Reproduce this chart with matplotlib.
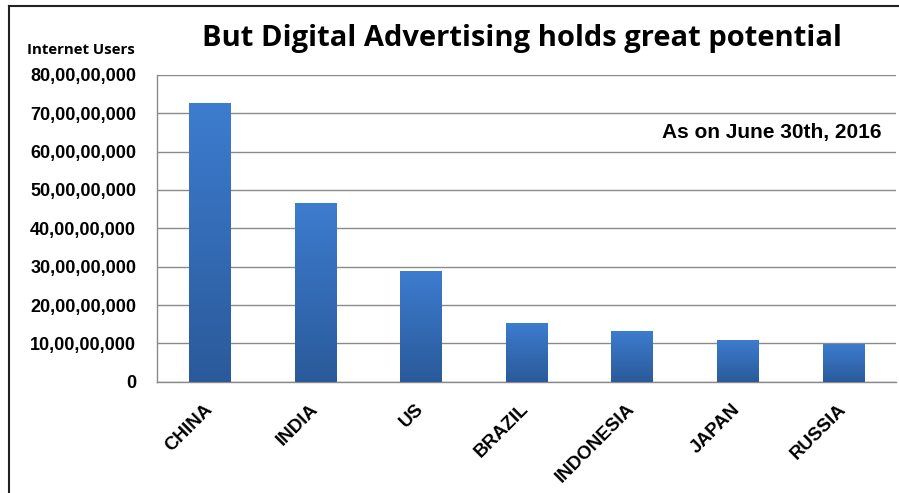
import matplotlib
matplotlib.use("Agg")
import matplotlib.pyplot as plt
import numpy as np
from matplotlib.colors import LinearSegmentedColormap
from matplotlib.lines import Line2D
from matplotlib.ticker import FuncFormatter

countries = ["CHINA", "INDIA", "US", "BRAZIL", "INDONESIA", "JAPAN", "RUSSIA"]
users = [727000000, 466000000, 290000000, 152000000, 132000000, 110000000, 99000000]
yticks = np.arange(0, 800000001, 100000000)


def indian_fmt(v, _pos=None):
    # lakh/crore grouping: 80,00,00,000
    n = int(round(v))
    if n == 0:
        return "0"
    s = str(n)
    head, tail = s[:-3], s[-3:]
    groups = []
    while len(head) > 2:
        groups.insert(0, head[-2:])
        head = head[:-2]
    if head:
        groups.insert(0, head)
    return ",".join(groups + [tail])


fig = plt.figure(figsize=(8.99, 4.93), dpi=100)
ax = fig.add_axes([0.1746, 0.2258, 0.8220, 0.6221])

x = np.arange(len(countries))
bars = ax.bar(x, users, width=0.39, color="none", edgecolor="none", zorder=3)

# vertical gradient fill, lighter at the top
cmap = LinearSegmentedColormap.from_list("barblue", ["#2a5a9a", "#3d7ccf"])
grad = np.linspace(0, 1, 256).reshape(-1, 1)
for b in bars:
    x0, w, h = b.get_x(), b.get_width(), b.get_height()
    im = ax.imshow(grad, cmap=cmap, origin="lower", aspect="auto",
                   extent=(x0, x0 + w, 0, h), zorder=3)
    im.set_clip_path(b)

ax.set_xlim(-0.5, len(countries) - 0.5)
ax.set_ylim(0, 800000000)
ax.set_yticks(yticks)
ax.yaxis.set_major_formatter(FuncFormatter(indian_fmt))
ax.grid(axis="y", color="#8a8a8a", lw=1.0, zorder=0)
ax.set_axisbelow(True)

for s in ["top", "right"]:
    ax.spines[s].set_visible(False)
for s in ["left", "bottom"]:
    ax.spines[s].set_color("#8a8a8a")
    ax.spines[s].set_linewidth(1.0)

ax.tick_params(axis="y", length=0, pad=15, labelsize=13)
ax.tick_params(axis="x", length=0, pad=18, labelsize=13.5)
for lab in ax.get_yticklabels():
    lab.set_fontfamily("Liberation Sans")
    lab.set_fontweight("bold")
ax.set_xticks(x)
ax.set_xticklabels(countries, rotation=45, ha="right", va="center",
                   rotation_mode="anchor", fontfamily="Liberation Sans",
                   fontweight="bold")

fig.text(0.581, 0.922, "But Digital Advertising holds great potential",
         ha="center", va="center", fontsize=21, fontweight="bold",
         fontfamily="Open Sans")
fig.text(0.030, 0.898, "Internet Users", ha="left", va="center",
         fontsize=10.8, fontweight="bold", fontfamily="Open Sans")
ax.text(0.98, 0.814, "As on June 30th, 2016", transform=ax.transAxes,
        ha="right", va="center", fontsize=15, fontweight="bold",
        fontfamily="Liberation Sans")

# outer frame on the left and top edges
fig.add_artist(Line2D([0.0095, 0.0095], [0, 0.988], color="#222222", lw=1.5))
fig.add_artist(Line2D([0.0095, 1.0], [0.988, 0.988], color="#222222", lw=1.5))

fig.savefig("out.png", dpi=100)
